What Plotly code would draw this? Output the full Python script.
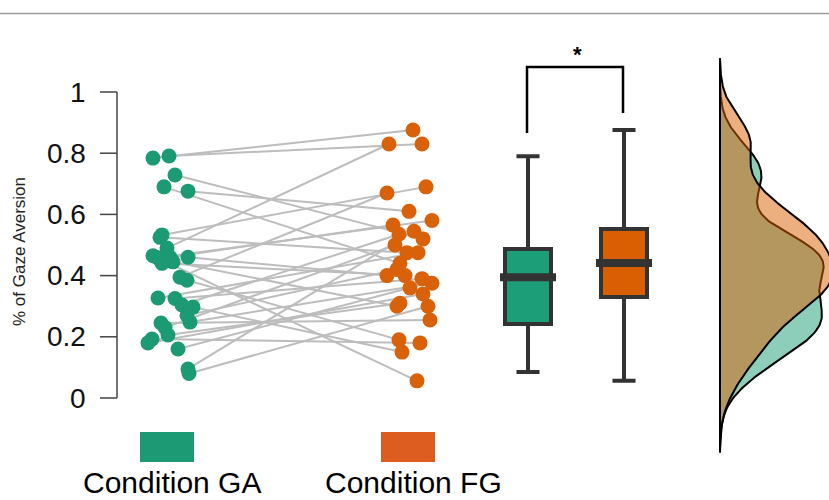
import numpy as np
import plotly.graph_objects as go

# ---------------- data ----------------
conditions = ["Condition GA", "Condition FG"]
ga_values = [0.791, 0.784, 0.729, 0.690, 0.676, 0.533, 0.525, 0.490, 0.465, 0.460,
             0.460, 0.458, 0.445, 0.440, 0.395, 0.385, 0.327, 0.325, 0.304, 0.297,
             0.270, 0.248, 0.245, 0.230, 0.206, 0.193, 0.180, 0.160, 0.095, 0.080]
fg_values = [0.830, 0.876, 0.520, 0.440, 0.610, 0.690, 0.475, 0.830, 0.056, 0.565,
             0.400, 0.580, 0.300, 0.400, 0.670, 0.190, 0.475, 0.390, 0.535, 0.150,
             0.420, 0.375, 0.255, 0.500, 0.310, 0.180, 0.340, 0.360, 0.545, 0.300]
# horizontal jitter of each dot (offset from the group centre, axis units)
ga_jitter = [-0.01, -0.17, 0.05, -0.06, 0.18, -0.08, -0.10, -0.03, -0.17, 0.00,
             0.18, -0.12, 0.03, -0.08, 0.10, 0.17, -0.12, 0.05, 0.12, 0.23,
             0.17, 0.20, -0.09, -0.05, -0.02, -0.18, -0.22, 0.08, 0.18, 0.19]
fg_jitter = [0.12, 0.03, 0.13, -0.10, -0.01, 0.16, -0.03, -0.21, 0.07, -0.17,
             -0.23, 0.22, -0.13, -0.05, -0.23, -0.11, 0.08, 0.12, -0.11, -0.08,
             -0.13, 0.22, 0.20, -0.15, -0.10, 0.10, 0.13, 0.00, 0.04, 0.18]
# box-plot statistics: lower whisker, Q1, median, Q3, upper whisker
ga_box = [0.085, 0.242, 0.395, 0.487, 0.790]
fg_box = [0.056, 0.330, 0.441, 0.552, 0.876]
y_ticks = [0, 0.2, 0.4, 0.6, 0.8, 1]
y_tick_labels = ["0", "0.2", "0.4", "0.6", "0.8", "1"]
y_title = "% of Gaze Aversion"
sig_label = "*"

# ---------------- styles / layout ----------------
GA_C = "#1b9a74"
FG_C = "#d9610a"
BOX_GA = "#1c9e78"
BOX_FG = "#d95f02"
DARK = "#333333"
FONT = "Liberation Sans, Arial"

W, H = 829, 500
# axis mapping: x in units of 100 px; y value 0 at px 398, 1 at px 92
Y0_PX, Y1_PX = 398.0, 92.0
def ypx(p):
    return (Y0_PX - p) / (Y0_PX - Y1_PX)
def xpx(p):
    return p / 100.0

GA_X, FG_X = 1.70, 4.10
BOX_GA_X, BOX_FG_X = 5.28, 6.24
DENS_X = 7.20

fig = go.Figure()

# paired lines
lx, ly = [], []
for g, f, jg, jf in zip(ga_values, fg_values, ga_jitter, fg_jitter):
    lx += [GA_X + jg, FG_X + jf, None]
    ly += [g, f, None]
fig.add_trace(go.Scatter(x=lx, y=ly, mode="lines",
                         line=dict(color="#bdbdbd", width=2), hoverinfo="skip"))

# dots
fig.add_trace(go.Scatter(x=[GA_X + j for j in ga_jitter], y=ga_values, mode="markers",
                         marker=dict(color=GA_C, size=15, line=dict(width=0))))
fig.add_trace(go.Scatter(x=[FG_X + j for j in fg_jitter], y=fg_values, mode="markers",
                         marker=dict(color=FG_C, size=15, line=dict(width=0))))

# box plots from statistics
for xc, st, col in [(BOX_GA_X, ga_box, BOX_GA), (BOX_FG_X, fg_box, BOX_FG)]:
    fig.add_trace(go.Box(x=[xc], lowerfence=[st[0]], q1=[st[1]], median=[st[2]],
                         q3=[st[3]], upperfence=[st[4]], width=0.46,
                         fillcolor=col, line=dict(color=DARK, width=4),
                         whiskerwidth=0.5, boxpoints=False, hoverinfo="skip"))
    # thicker median bar
    fig.add_trace(go.Scatter(x=[xc], y=[st[2]], mode="markers",
                             marker=dict(symbol="line-ew", size=40,
                                         line=dict(color=DARK, width=8)),
                             hoverinfo="skip"))

# density curves (gaussian KDE of each condition, R-style cut = 3 bw)
def kde(vals, bw):
    v = np.asarray(vals)
    grid = np.linspace(v.min() - 3 * bw, v.max() + 3 * bw, 300)
    d = np.exp(-0.5 * ((grid[:, None] - v[None, :]) / bw) ** 2).sum(1)
    d /= (len(v) * bw * np.sqrt(2 * np.pi))
    return grid, d

bw = 0.078
g_grid, g_d = kde(ga_values, bw)
f_grid, f_d = kde(fg_values, bw)
scale = 1.13 / max(g_d.max(), f_d.max())
for grid, d, col in [(g_grid, g_d, "rgba(27,158,119,0.5)"), (f_grid, f_d, "rgba(217,95,2,0.5)")]:
    xs = np.concatenate([[DENS_X], DENS_X + d * scale, [DENS_X]])
    ys = np.concatenate([[grid[0]], grid, [grid[-1]]])
    fig.add_trace(go.Scatter(x=xs, y=ys, mode="lines", fill="toself", fillcolor=col,
                             line=dict(color="black", width=2), hoverinfo="skip"))
ymin = min(g_grid[0], f_grid[0]); ymax = max(g_grid[-1], f_grid[-1])
fig.add_shape(type="line", x0=DENS_X, x1=DENS_X, y0=ymin, y1=ymax,
              line=dict(color="black", width=2))

# y axis drawn by hand
AX_X = xpx(117)
fig.add_shape(type="line", x0=AX_X, x1=AX_X, y0=y_ticks[0], y1=y_ticks[-1],
              line=dict(color="#444444", width=1.5))
for t, lab in zip(y_ticks, y_tick_labels):
    fig.add_shape(type="line", x0=xpx(100), x1=AX_X, y0=t, y1=t,
                  line=dict(color="#444444", width=1.5))
    fig.add_annotation(x=xpx(88), y=t, text=lab, showarrow=False, xanchor="right",
                       yanchor="middle", font=dict(size=28, color="#111111", family=FONT))
fig.add_annotation(x=xpx(19), y=ypx(252), text=y_title, textangle=-90, showarrow=False,
                   font=dict(size=17, color="#222222", family=FONT))

# significance bracket
fig.add_trace(go.Scatter(x=[xpx(527), xpx(527), xpx(623), xpx(623)],
                         y=[ypx(133), ypx(67), ypx(67), ypx(113)], mode="lines",
                         line=dict(color="black", width=2.5), hoverinfo="skip"))
fig.add_annotation(x=xpx(577), y=ypx(54), text="<b>" + sig_label + "</b>", showarrow=False,
                   font=dict(size=22, color="black", family=FONT))

# legend
for xc, col, lab in [(167, GA_C, conditions[0]), (408, "#dd5c1f", conditions[1])]:
    fig.add_shape(type="rect", x0=xpx(xc - 27), x1=xpx(xc + 27), y0=ypx(462), y1=ypx(432),
                  fillcolor=col, line=dict(width=0))
    fig.add_annotation(x=xpx(xc + 5), y=ypx(482), text=lab, showarrow=False,
                       yanchor="middle",
                       font=dict(size=30, color="black", family=FONT))

# top rule
fig.add_shape(type="line", xref="paper", yref="paper", x0=0, x1=1,
              y0=1 - 13.5 / H, y1=1 - 13.5 / H, line=dict(color="#9a9a9a", width=1.5))

fig.update_layout(width=W, height=H, margin=dict(l=0, r=0, t=0, b=0),
                  showlegend=False, plot_bgcolor="white", paper_bgcolor="white",
                  xaxis=dict(range=[0, W / 100.0], visible=False, fixedrange=True),
                  yaxis=dict(range=[ypx(H), ypx(0)], visible=False, fixedrange=True))
fig.write_html("out.html", config={"displayModeBar": False},
               post_script="document.body.style.margin='0px';document.body.style.overflow='hidden';")
